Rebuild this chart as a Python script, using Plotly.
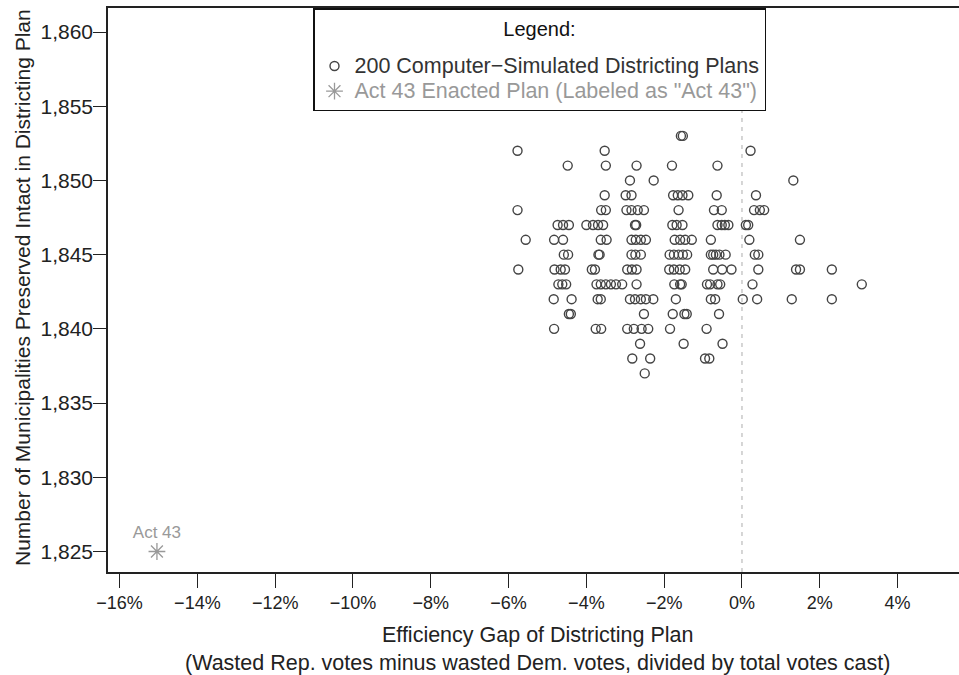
import plotly.graph_objects as go

# ---- Data: simulated plans, grouped by municipalities preserved (row) ----
rows = {
    1853: [-1.57, -1.52],
    1852: [-5.77, -3.53, 0.22],
    1851: [-4.48, -3.50, -2.71, -1.80, -0.63],
    1850: [-2.88, -2.27, 1.32],
    1849: [-3.53, -2.99, -2.84, -1.77, -1.65, -1.53, -1.38, -0.65, 0.36],
    1848: [-5.77, -3.62, -3.50, -2.97, -2.84, -2.68, -2.52, -1.63, -0.72, -0.52, 0.31, 0.46, 0.57],
    1847: [-4.74, -4.60, -4.45, -4.00, -3.83, -3.70, -3.57, -2.75, -2.72, -1.79, -1.68, -1.53,
           -0.63, -0.52, -0.44, -0.35, 0.10, 0.16],
    1846: [-5.56, -4.83, -4.60, -3.63, -3.48, -2.84, -2.73, -2.60, -2.47, -1.73, -1.59, -1.46,
           -1.29, -0.80, 0.19, 1.49],
    1845: [-4.58, -4.47, -3.69, -3.66, -2.84, -2.74, -2.60, -1.86, -1.75, -1.63, -1.52, -1.41,
           -0.80, -0.74, -0.67, -0.58, -0.42, 0.33, 0.42],
    1844: [-5.75, -4.82, -4.66, -4.55, -3.86, -3.78, -2.95, -2.83, -2.71, -1.87, -1.75, -1.60,
           -1.46, -0.74, -0.51, -0.27, 0.42, 1.39, 1.49, 2.31],
    1843: [-4.72, -4.62, -4.52, -3.74, -3.63, -3.50, -3.37, -3.24, -3.08, -2.71, -1.74, -1.59,
           -1.55, -0.90, -0.82, -0.63, -0.56, 0.27, 3.08],
    1842: [-4.84, -4.38, -3.71, -3.63, -2.88, -2.75, -2.60, -2.47, -2.28, -1.70, -0.80, -0.69,
           0.02, 0.39, 1.28, 2.31],
    1841: [-4.45, -4.40, -2.52, -1.78, -1.48, -1.42, -0.59],
    1840: [-4.83, -3.76, -3.62, -2.95, -2.78, -2.58, -2.41, -1.85, -0.91],
    1839: [-2.62, -1.50, -0.50],
    1838: [-2.82, -2.36, -0.95, -0.84],
    1837: [-2.50],
}
sim_gap = [g for r in rows for g in rows[r]]
sim_muni = [r for r in rows for _ in rows[r]]

act43_gap = [-15.04]
act43_muni = [1825]
act43_label = ["Act 43"]

x_tickvals = [-16, -14, -12, -10, -8, -6, -4, -2, 0, 2, 4]
x_ticktext = ["\u221216%", "\u221214%", "\u221212%", "\u221210%", "\u22128%", "\u22126%",
              "\u22124%", "\u22122%", "0%", "2%", "4%"]
y_tickvals = [1825, 1830, 1835, 1840, 1845, 1850, 1855, 1860]
y_ticktext = ["1,825", "1,830", "1,835", "1,840", "1,845", "1,850", "1,855", "1,860"]

FONT = "Liberation Sans, Arial, Helvetica, sans-serif"
W, H = 959, 675
ML, MR, MT, MB = 108, 0, 8, 103
PW, PH = W - ML - MR, H - MT - MB

fig = go.Figure()
fig.add_trace(go.Scatter(
    x=sim_gap, y=sim_muni, mode="markers",
    name='<span style="font-size:21.5px;color:#333333">200 Computer\u2212Simulated Districting Plans</span>',
    marker=dict(symbol="circle-open", size=9, color="#444444", line=dict(width=1.4, color="#444444")),
))
fig.add_trace(go.Scatter(
    x=act43_gap, y=act43_muni, mode="markers+text",
    text=act43_label, textposition="top center",
    textfont=dict(family=FONT, size=17, color="#999999"),
    name='<span style="font-size:21.5px;color:#999999">Act 43 Enacted Plan (Labeled as "Act 43")</span>',
    marker=dict(symbol="asterisk-open", size=14, color="#999999", line=dict(width=1.3, color="#999999")),
))

fig.add_shape(type="line", xref="x", yref="paper", x0=0, x1=0, y0=0, y1=1,
              line=dict(color="#c8c8c8", width=1.5, dash="4px,5px"), layer="below")

# axis titles
fig.add_annotation(
    text="Efficiency Gap of Districting Plan<br>(Wasted Rep. votes minus wasted Dem. votes, divided by total votes cast)",
    xref="paper", yref="paper", x=(537 - ML) / PW, y=(PH + MT - 649) / PH,
    xanchor="center", yanchor="middle", showarrow=False,
    font=dict(family=FONT, size=21.5, color="#222222"),
)
fig.add_annotation(
    text="Number of Municipalities Preserved Intact in Districting Plan",
    xref="paper", yref="paper", x=(22 - ML) / PW, y=(PH + MT - 288) / PH,
    xanchor="center", yanchor="middle", showarrow=False, textangle=-90,
    font=dict(family=FONT, size=21, color="#222222"),
)

fig.update_layout(
    width=W, height=H,
    margin=dict(l=ML, r=MR, t=MT, b=MB),
    paper_bgcolor="white", plot_bgcolor="white",
    font=dict(family=FONT, size=21, color="#222222"),
    showlegend=True,
    legend=dict(
        x=(313 - ML) / PW, y=1, xanchor="left", yanchor="top",
        bgcolor="white", bordercolor="#111111", borderwidth=1.5,
        font=dict(family=FONT, size=17, color="#333333"),
        title=dict(text='<span style="font-size:20px;baseline-shift:13px">Legend:</span>', side="top center",
                   font=dict(family=FONT, size=30, color="#111111")),
        itemwidth=30,
    ),
    xaxis=dict(
        range=[-16.298, 5.579], showgrid=False, zeroline=False,
        showline=True, linecolor="#222222", linewidth=1.5, mirror=True,
        ticks="outside", ticklen=14, tickwidth=1.2, tickcolor="#222222",
        tickvals=x_tickvals, ticktext=x_ticktext,
        tickfont=dict(family=FONT, size=18, color="#222222"),
        automargin=False,
    ),
    yaxis=dict(
        range=[1823.62, 1861.617], showgrid=False, zeroline=False,
        showline=True, linecolor="#222222", linewidth=1.5, mirror=False,
        ticks="outside", ticklen=13, tickwidth=1.2, tickcolor="#222222",
        tickvals=y_tickvals, ticktext=y_ticktext,
        tickfont=dict(family=FONT, size=21, color="#222222"),
        ticklabelstandoff=-4,
        automargin=False,
    ),
)

fig.write_html("out.html", config={"displayModeBar": False},
               post_script="document.body.style.margin='0';document.body.style.overflow='hidden';")
